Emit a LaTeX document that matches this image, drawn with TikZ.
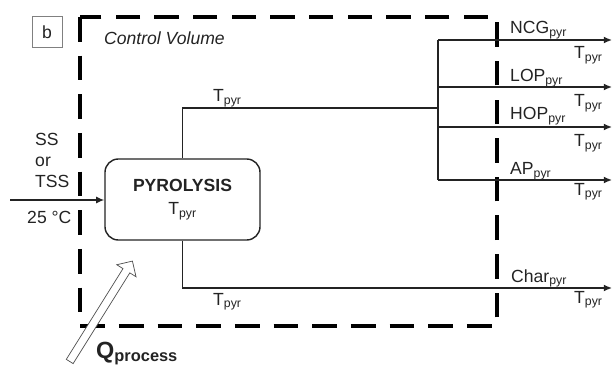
\documentclass[tikz,border=0pt]{standalone}
\usepackage{fontspec}
\setmainfont{Liberation Sans}
\usetikzlibrary{arrows.meta,shapes.arrows}

\definecolor{ink}{RGB}{35,35,35}

\tikzset{
  pipe/.style={draw=ink, line width=1.2pt},
  flow/.style={pipe, -{Latex[length=7pt,width=6pt]}},
  cvline/.style={draw=black, line width=2.6pt, dash pattern=on 21pt off 12pt},
  lbl/.style={inner sep=0pt, anchor=base west, text=ink},
}
\newcommand{\pyr}[1]{#1\textsubscript{pyr}}

\begin{document}
\fontsize{15}{18}\selectfont
\begin{tikzpicture}[x=0.03cm, y=-0.03cm]
\useasboundingbox (0,0) rectangle (615,369);

% control volume
\draw[cvline] (80,17) rectangle (497,326);
\node[draw=gray, line width=0.8pt, minimum width=0.9cm, minimum height=0.93cm, text=ink] (tag) at (47,32) {b};
\node[lbl, font=\itshape] (cv) at (104,45) {Control Volume};

% reactor
\node[pipe, rounded corners=0.4cm, minimum width=4.65cm, minimum height=2.43cm, align=center, text=ink] (pyro) at (182.5,199.5) {\textbf{PYROLYSIS}\\[2pt]\pyr{T}};

% feed
\coordinate (feed) at (10,200);
\draw[flow] (feed) -- (feed -| pyro.west);
\node[anchor=north west, inner sep=0pt, align=left, text=ink] (ss) at (35,133) {SS\\or\\TSS};
\node[lbl] (tin) at (27,223) {25 °C};

% vapours
\coordinate (split) at (438,108);
\coordinate (bustop) at (438,40);
\coordinate (busbot) at (438,180);
\draw[pipe] (pyro.north) |- (split);
\draw[pipe] (bustop) -- (busbot);
\node[lbl] (ttop) at (213,102) {\pyr{T}};
\foreach \n/\y in {ncg/40,lop/87,hop/127,ap/180}{
  \coordinate (\n-a) at (438,\y);
  \coordinate (\n-b) at (612,\y);
  \draw[flow] (\n-a) -- (\n-b);
}
\node[lbl] (ncg) at (510,34) {\pyr{NCG}};
\node[lbl] (lop) at (510,82) {\pyr{LOP}};
\node[lbl] (hop) at (510,120) {\pyr{HOP}};
\node[lbl] (ap) at (510,175) {\pyr{AP}};
\node[lbl] (t1) at (574,59) {\pyr{T}};
\node[lbl] (t2) at (574,107) {\pyr{T}};
\node[lbl] (t3) at (574,147) {\pyr{T}};
\node[lbl] (t4) at (574,195) {\pyr{T}};

% char
\coordinate (charout) at (612,288);
\draw[flow] (pyro.south) |- (charout);
\node[lbl] (tbot) at (213,305) {\pyr{T}};
\node[lbl] (char) at (511,282) {\pyr{Char}};
\node[lbl] (t5) at (574,303) {\pyr{T}};

% heat
\node[single arrow, draw=gray!60!black, line width=0.6pt, fill=white, minimum height=3.55cm, inner sep=0.11cm, single arrow head extend=0.22cm, rotate=58] (qarrow) at (100,313) {};
\node[lbl, font=\bfseries\fontsize{20}{24}\selectfont] (q) at (96,358) {Q\textsubscript{process}};
\end{tikzpicture}
\end{document}
